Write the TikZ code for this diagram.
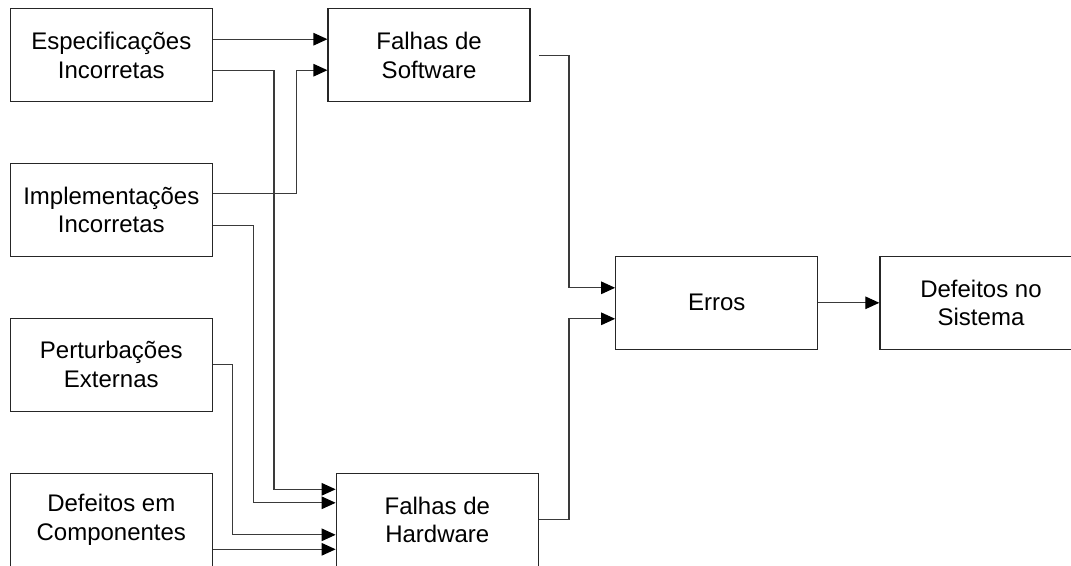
\documentclass[tikz,border=0pt]{standalone}
\usepackage{fontspec}
\setmainfont{Liberation Sans}
\usetikzlibrary{arrows.meta}
\definecolor{boxline}{HTML}{262626}
\definecolor{wire}{HTML}{3A3A3A}
\begin{document}
\begin{tikzpicture}[x=1pt,y=-1pt,
  box/.style={draw=boxline, line width=1.3pt, minimum width=202pt,
    minimum height=93pt, inner sep=0pt, align=center,
    font=\fontsize{24}{28.7}\selectfont},
  conn/.style={draw=wire, line width=1.2pt,
    -{Triangle[length=14pt,width=12.5pt,color=black]}}]
\useasboundingbox (0,0) rectangle (1071,565);

% sources
\node[box] (espec) at (111.3,55.2)  {Especificações\\Incorretas};
\node[box] (impl)  at (111.3,209.8) {Implementações\\Incorretas};
\node[box] (pert)  at (111.3,364.7) {Perturbações\\Externas};
\node[box] (comp)  at (111.3,519.8) {Defeitos em\\Componentes};

% faults, errors, failures
\node[box] (sw)    at (429.1,55.2)  {Falhas de\\Software};
\node[box] (hw)    at (437.3,519.8) {Falhas de\\Hardware};
\node[box] (erros) at (716.8,302.8) {Erros};
\node[box] (sist)  at (981,302.8)   {Defeitos no\\Sistema};

% ports on the box sides
\coordinate (eA) at ([yshift=16pt]espec.east);
\coordinate (eB) at ([yshift=-15pt]espec.east);
\coordinate (iA) at ([yshift=16pt]impl.east);
\coordinate (iB) at ([yshift=-16pt]impl.east);
\coordinate (cA) at ([yshift=-29.5pt]comp.east);
\coordinate (sA) at ([yshift=16pt]sw.west);
\coordinate (sB) at ([yshift=-15pt]sw.west);
\coordinate (sO) at ([xshift=8pt]sw.east);
\coordinate (h1) at ([yshift=30.5pt]hw.west);
\coordinate (h2) at ([yshift=17pt]hw.west);
\coordinate (h3) at ([yshift=-15pt]hw.west);
\coordinate (h4) at ([yshift=-29.5pt]hw.west);
\coordinate (r1) at ([yshift=15pt]erros.west);
\coordinate (r2) at ([yshift=-16pt]erros.west);

% vertical routing lanes
\coordinate (lane1) at (274,0);
\coordinate (lane2) at (296.8,0);
\coordinate (lane3) at (253.5,0);
\coordinate (lane4) at (232.8,0);
\coordinate (lane5) at (569,0);

% connectors
\draw[conn] (eA) -- (sA);
\draw[conn] (eB) -| (lane1 |- h1) -- (h1);
\draw[conn] (iA) -| (lane2 |- sB) -- (sB);
\draw[conn] (iB) -| (lane3 |- h2) -- (h2);
\draw[conn] (pert.east) -| (lane4 |- h3) -- (h3);
\draw[conn] (cA) -- (h4);
\draw[conn] (sO) -| (lane5 |- r1) -- (r1);
\draw[conn] (hw.east) -| (lane5 |- r2) -- (r2);
\draw[conn] (erros.east) -- (sist.west);
\end{tikzpicture}
\end{document}
